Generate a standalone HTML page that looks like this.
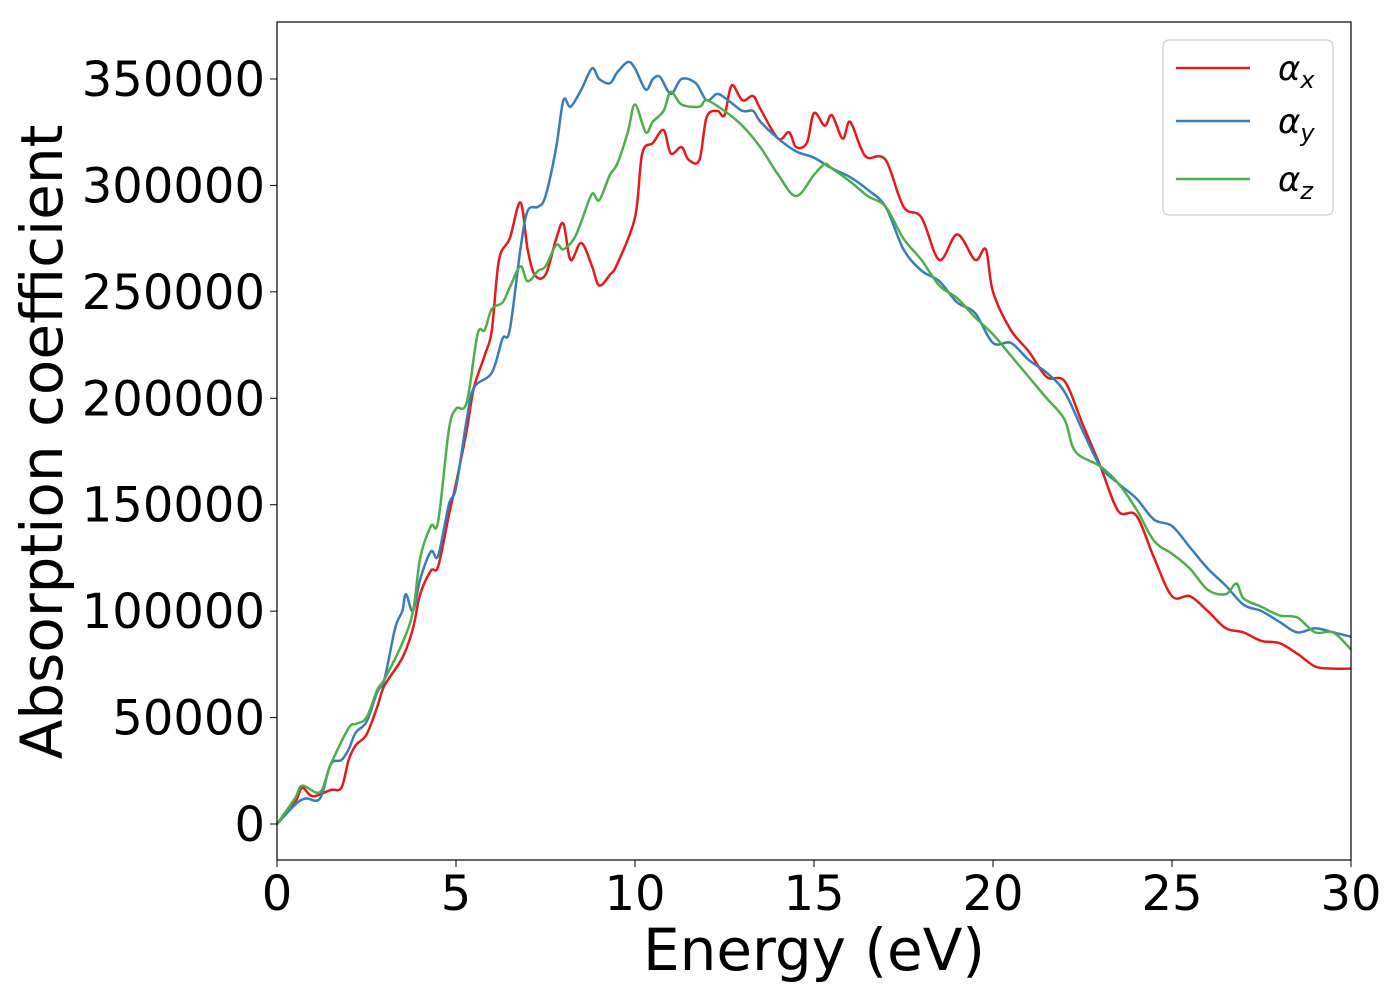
<!DOCTYPE html>
<html><head><meta charset="utf-8">
<style>
body{margin:0;background:#fff;}
svg text{font-family:"DejaVu Sans","Liberation Sans",sans-serif;fill:#000;}
</style></head>
<body>
<svg id="chart" width="1400" height="1000" xmlns="http://www.w3.org/2000/svg">
<rect width="1400" height="1000" fill="#fff"/>
<g id="series"></g>
<rect x="277" y="22" width="1074" height="838" fill="none" stroke="#000" stroke-width="1.2"/>
<g id="xticks"></g>
<g id="yticks"></g>
<text x="814" y="970" font-size="58" text-anchor="middle">Energy (eV)</text>
<text transform="translate(62,442) rotate(-90)" font-size="58" text-anchor="middle">Absorption coefficient</text>
<g>
<rect x="1163" y="40" width="170" height="175" rx="6" fill="#fff" stroke="#ccc" stroke-width="1.2"/>
<g><line x1="1176" y1="68" x2="1250" y2="68" stroke="#e41a1c" stroke-width="2.5"/><text x="1278" y="80" font-size="34" font-style="italic">α<tspan font-size="24" dy="8">x</tspan></text></g>
<g><line x1="1176" y1="121" x2="1250" y2="121" stroke="#377eb8" stroke-width="2.5"/><text x="1278" y="133" font-size="34" font-style="italic">α<tspan font-size="24" dy="8">y</tspan></text></g>
<g><line x1="1176" y1="179" x2="1250" y2="179" stroke="#4daf4a" stroke-width="2.5"/><text x="1278" y="191" font-size="34" font-style="italic">α<tspan font-size="24" dy="8">z</tspan></text></g>
</g>
</svg>
<script>
const xTicks=[0,5,10,15,20,25,30];
const yTicks=[0,50000,100000,150000,200000,250000,300000,350000];
const seriesNames=["alpha-x","alpha-y","alpha-z"];
const seriesColors=["#e41a1c","#377eb8","#4daf4a"];
const energyX=[0,0.5,0.7,1.0,1.5,1.8,2.0,2.2,2.5,2.8,3.0,3.5,3.8,4.0,4.3,4.5,4.8,5.0,5.3,5.5,5.8,6.0,6.2,6.5,6.8,7.0,7.2,7.5,7.8,8.0,8.2,8.5,8.8,9.0,9.3,9.5,10.0,10.2,10.5,10.8,11.0,11.3,11.5,11.8,12.0,12.3,12.5,12.7,13.0,13.3,13.5,14.0,14.3,14.5,14.8,15.0,15.3,15.5,15.8,16.0,16.3,16.5,17.0,17.5,18.0,18.5,19.0,19.5,19.8,20.0,20.5,21.0,21.5,22.0,22.5,23.0,23.5,24.0,24.5,25.0,25.5,26.0,26.5,27.0,27.5,28.0,28.5,29.0,29.5,30.0];
const alphaX=[0,10000,17000,13000,16000,17000,30000,37000,42000,55000,65000,78000,92000,108000,119000,121000,145000,160000,185000,205000,220000,232000,265000,275000,292000,270000,258000,258000,275000,282000,265000,273000,262000,253000,258000,263000,285000,315000,320000,326000,315000,318000,312000,312000,332000,335000,333000,347000,340000,342000,336000,322000,325000,318000,320000,334000,328000,333000,322000,330000,318000,313000,312000,290000,285000,265000,277000,265000,270000,250000,232000,222000,210000,208000,188000,168000,147000,145000,125000,107000,107000,100000,92000,90000,86000,85000,80000,74000,73000,73000];
const energyY=[0,0.5,0.8,1.2,1.5,1.8,2.0,2.2,2.5,2.8,3.0,3.3,3.5,3.6,3.8,4.0,4.3,4.5,4.8,5.0,5.3,5.5,6.0,6.3,6.5,6.8,7.0,7.3,7.5,7.8,8.0,8.2,8.5,8.8,9.0,9.3,9.5,9.8,10.0,10.3,10.5,10.7,11.0,11.3,11.7,12.0,12.3,12.6,13.0,13.3,13.5,14.0,14.5,15.0,15.5,16.0,16.5,17.0,17.5,18.0,18.5,19.0,19.5,20.0,20.5,21.0,21.5,22.0,22.5,23.0,23.5,24.0,24.5,25.0,25.5,26.0,26.5,27.0,27.5,28.0,28.5,29.0,29.5,30.0];
const alphaY=[0,9000,12000,12000,28000,30000,35000,43000,48000,62000,68000,92000,100000,108000,100000,115000,128000,126000,150000,158000,190000,205000,212000,228000,232000,270000,288000,290000,295000,318000,340000,337000,345000,355000,350000,348000,353000,358000,355000,345000,350000,351000,343000,350000,348000,340000,343000,340000,335000,335000,330000,322000,316000,313000,308000,304000,298000,290000,270000,260000,255000,245000,240000,226000,226000,218000,212000,203000,185000,168000,160000,153000,143000,140000,130000,120000,112000,103000,100000,95000,90000,92000,90000,88000];
const energyZ=[0,0.5,0.7,1.2,1.5,2.0,2.2,2.5,2.8,3.0,3.5,3.8,4.0,4.3,4.5,4.8,5.0,5.3,5.6,5.8,6.0,6.3,6.5,6.8,7.0,7.3,7.5,7.8,8.0,8.3,8.5,8.8,9.0,9.3,9.5,9.8,10.0,10.3,10.5,10.8,11.0,11.3,11.8,12.0,12.5,13.0,13.5,14.0,14.5,15.0,15.3,15.5,16.0,16.5,17.0,17.5,18.0,18.5,19.0,19.5,20.0,20.5,21.0,21.5,22.0,22.3,23.0,23.5,24.0,24.5,25.0,25.5,26.0,26.5,26.8,27.0,27.5,28.0,28.5,29.0,29.5,30.0];
const alphaZ=[0,12000,18000,15000,28000,45000,47000,50000,63000,68000,85000,100000,125000,140000,142000,185000,195000,198000,230000,232000,242000,245000,252000,262000,255000,260000,262000,272000,270000,275000,283000,296000,293000,305000,310000,325000,338000,325000,330000,335000,344000,338000,337000,340000,335000,328000,318000,305000,295000,305000,310000,308000,302000,295000,290000,275000,265000,253000,247000,238000,230000,220000,210000,200000,190000,175000,168000,160000,148000,133000,127000,120000,110000,108000,113000,106000,102000,98000,97000,90000,90000,82000];

const X0=277,X1=1351,Y0=824,Y350=79;
function sx(v){return X0+(v-0)/(30-0)*(X1-X0);}
function sy(v){return Y0-(v/350000)*(Y0-Y350);}
const NS="http://www.w3.org/2000/svg";
const xg=document.getElementById('xticks'),yg=document.getElementById('yticks'),sg=document.getElementById('series');
xTicks.forEach(t=>{
  const l=document.createElementNS(NS,'line');
  l.setAttribute('x1',sx(t));l.setAttribute('x2',sx(t));l.setAttribute('y1',860);l.setAttribute('y2',867);l.setAttribute('stroke','#000');
  
  
  xg.appendChild(l);
  const tx=document.createElementNS(NS,'text');
  tx.setAttribute('x',sx(t));tx.setAttribute('y',910);tx.setAttribute('font-size','48');tx.setAttribute('text-anchor','middle');
  tx.textContent=t;
  
  
  xg.appendChild(tx);
});
yTicks.forEach(t=>{
  const l=document.createElementNS(NS,'line');
  l.setAttribute('x1',270);l.setAttribute('x2',277);l.setAttribute('y1',sy(t));l.setAttribute('y2',sy(t));l.setAttribute('stroke','#000');
  
  
  yg.appendChild(l);
  const tx=document.createElementNS(NS,'text');
  tx.setAttribute('x',265);tx.setAttribute('y',sy(t)+17);tx.setAttribute('font-size','48');tx.setAttribute('text-anchor','end');
  tx.textContent=t;
  
  
  yg.appendChild(tx);
});
const allX=[energyX,energyY,energyZ],allV=[alphaX,alphaY,alphaZ];
allV.forEach((vals,i)=>{
  const xs=allX[i];
  const pts=vals.map((v,j)=>[sx(xs[j]),sy(v)]);
  let d='M'+pts[0][0].toFixed(1)+','+pts[0][1].toFixed(1);
  for(let j=0;j<pts.length-1;j++){
    const p0=pts[j-1]||pts[j],p1=pts[j],p2=pts[j+1],p3=pts[j+2]||p2;
    const c1=[p1[0]+(p2[0]-p0[0])/6,p1[1]+(p2[1]-p0[1])/6];
    const c2=[p2[0]-(p3[0]-p1[0])/6,p2[1]-(p3[1]-p1[1])/6];
    d+=' C'+c1[0].toFixed(1)+','+c1[1].toFixed(1)+' '+c2[0].toFixed(1)+','+c2[1].toFixed(1)+' '+p2[0].toFixed(1)+','+p2[1].toFixed(1);
  }
  const p=document.createElementNS(NS,'path');
  p.setAttribute('d',d);p.setAttribute('fill','none');p.setAttribute('stroke',seriesColors[i]);p.setAttribute('stroke-width','2.5');
  
  
  sg.appendChild(p);
});
</script>
</body></html>
